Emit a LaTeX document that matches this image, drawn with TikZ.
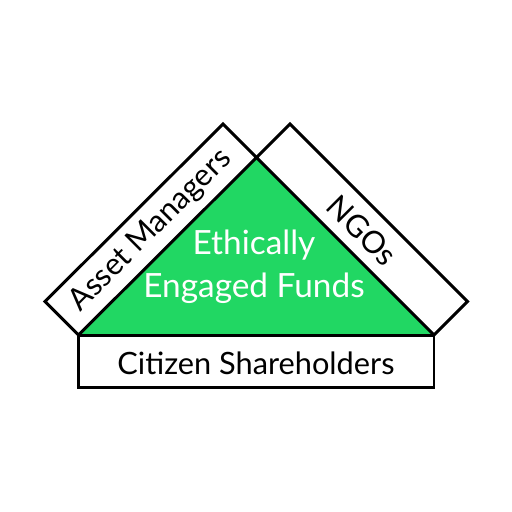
\documentclass[tikz,border=0pt]{standalone}
\usepackage{fontspec}
\setmainfont{Lato}
\usepackage{tikz}
\usetikzlibrary{calc}
\definecolor{fundgreen}{HTML}{21D763}

\tikzset{
  boxline/.style={draw=black, line width=1.7pt, line join=miter},
  boxtext/.style={font=\fontsize{17.5}{21}\selectfont, inner sep=0pt},
  fundtext/.style={font=\fontsize{19}{24.5}\selectfont, text=white, align=center, inner sep=0pt}
}

\begin{document}
\begin{tikzpicture}[x=0.02cm,y=-0.02cm]
\useasboundingbox (0,0) rectangle (512,512);
\coordinate (apex) at (256.5,157.5);
\coordinate (bl) at (78.5,335);
\coordinate (br) at (434,335);
% the green triangle
\fill[fundgreen] (bl) -- (apex) -- (br) -- cycle;
% side boxes
\draw[boxline] (bl) -- (apex) -- ($(apex)+(-33.5,-33.5)$) -- ($(bl)+(-33.5,-33.5)$) -- cycle;
\draw[boxline] (br) -- (apex) -- ($(apex)+(33.5,-33.5)$) -- ($(br)+(33.5,-33.5)$) -- cycle;
\draw[boxline] (bl) rectangle (434,387.5);
\draw[boxline] (bl) -- (br);
% labels
\node[boxtext, rotate=45] (asset) at (150.75,230.5) {Asset Managers};
\node[boxtext, rotate=-45] (ngo) at (362,230.5) {NGOs};
\node[boxtext] (citizen) at (256,363) {Citizen Shareholders};
\node[fundtext] (funds) at (254,267) {Ethically\\Engaged Funds};
\end{tikzpicture}
\end{document}
